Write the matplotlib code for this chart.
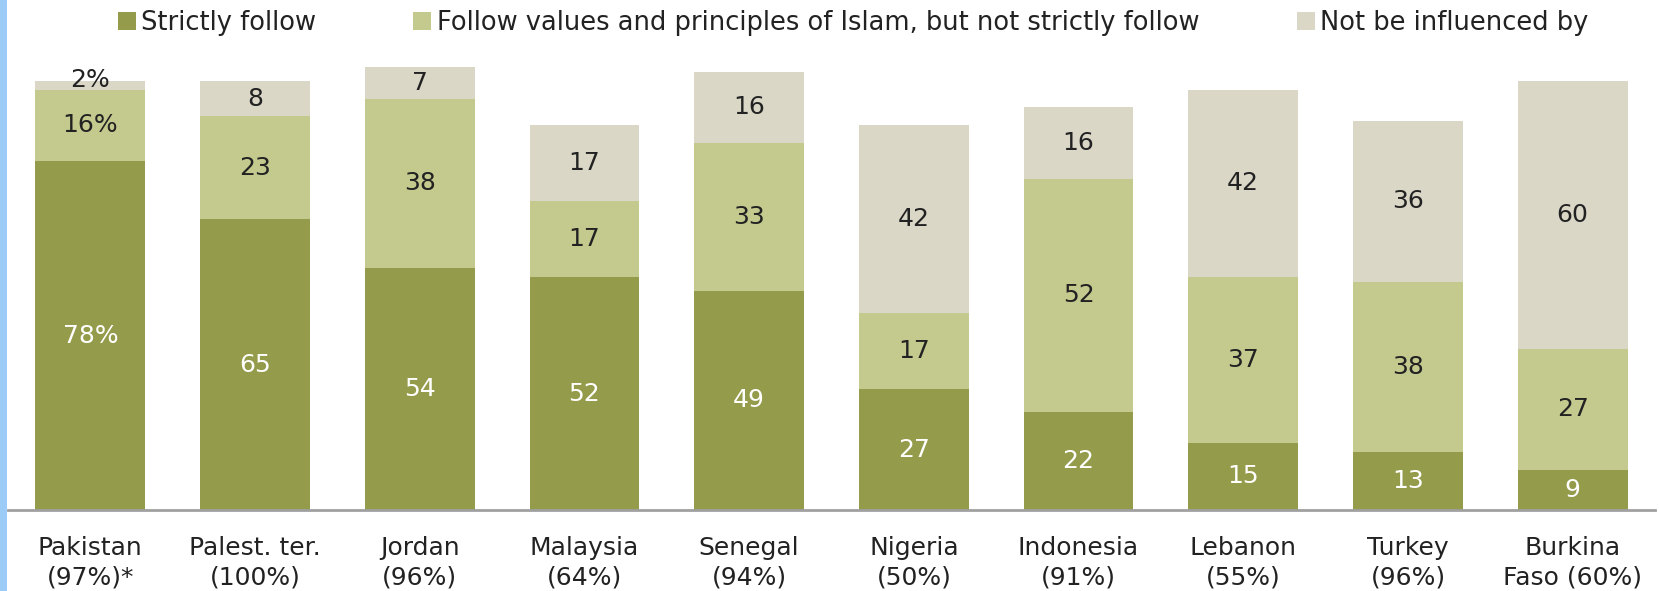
import matplotlib
matplotlib.use("Agg")
import matplotlib.pyplot as plt
from matplotlib.patches import Patch, Rectangle
import numpy as np

plt.rcParams['font.family'] = ['DejaVu Sans']

countries = ["Pakistan\n(97%)*", "Palest. ter.\n(100%)", "Jordan\n(96%)", "Malaysia\n(64%)",
             "Senegal\n(94%)", "Nigeria\n(50%)", "Indonesia\n(91%)", "Lebanon\n(55%)",
             "Turkey\n(96%)", "Burkina\nFaso (60%)"]
strictly = [78, 65, 54, 52, 49, 27, 22, 15, 13, 9]
follow_values = [16, 23, 38, 17, 33, 17, 52, 37, 38, 27]
not_influenced = [2, 8, 7, 17, 16, 42, 16, 42, 36, 60]
series_names = ["Strictly follow", "Follow values and principles of Islam, but not strictly follow",
                "Not be influenced by"]
first_labels = ["78%", "16%", "2%"]

colors = ["#949B4A", "#C4C98E", "#DAD7C7"]
text_colors = ["white", "#222222", "#222222"]

W, H = 1659, 591
fig = plt.figure(figsize=(W / 100, H / 100), dpi=100)
ax = fig.add_axes([8 / W, (H - 510) / H, (1655 - 8) / W, 492 / H])

x = np.arange(len(countries))
series = [strictly, follow_values, not_influenced]
bottom = np.zeros(len(countries))
for si, (vals, col) in enumerate(zip(series, colors)):
    vals = np.array(vals, dtype=float)
    ax.bar(x, vals, bottom=bottom, width=0.667, color=col, edgecolor='none', zorder=2)
    for i, v in enumerate(vals):
        lab = first_labels[si] if i == 0 else f"{int(v)}"
        y = bottom[i] + v / 2
        if i == 0 and si == 2:
            y = bottom[i] + v / 2 + 1.2
        ax.text(x[i], y, lab, ha='center', va='center', fontsize=18,
                color=text_colors[si], zorder=3)
    bottom += vals

ax.set_xlim(-0.5, 9.5)
ax.set_ylim(0, 110)
ax.set_yticks([])
ax.set_xticks(x)
ax.set_xticklabels(countries, fontsize=18, color="#222222", linespacing=1.25)
ax.tick_params(axis='x', length=0, pad=19)
for s in ['top', 'right', 'left']:
    ax.spines[s].set_visible(False)
ax.spines['bottom'].set_color('#A0A0A0')
ax.spines['bottom'].set_linewidth(2)

handles = [Patch(facecolor=c, edgecolor='none') for c in colors]
fig.legend(handles, series_names, loc='center', bbox_to_anchor=(853 / W, 1 - 23 / H),
           ncol=3, frameon=False, fontsize=18.5, handlelength=0.7, handleheight=0.7,
           handletextpad=0.2, columnspacing=3.8, labelcolor="#222222")

# light blue strip at left
fig.patches.append(Rectangle((0, 0), 7 / W, 1, transform=fig.transFigure,
                             facecolor="#9DCBF7", edgecolor='none'))

fig.savefig("out.png", dpi=100)
